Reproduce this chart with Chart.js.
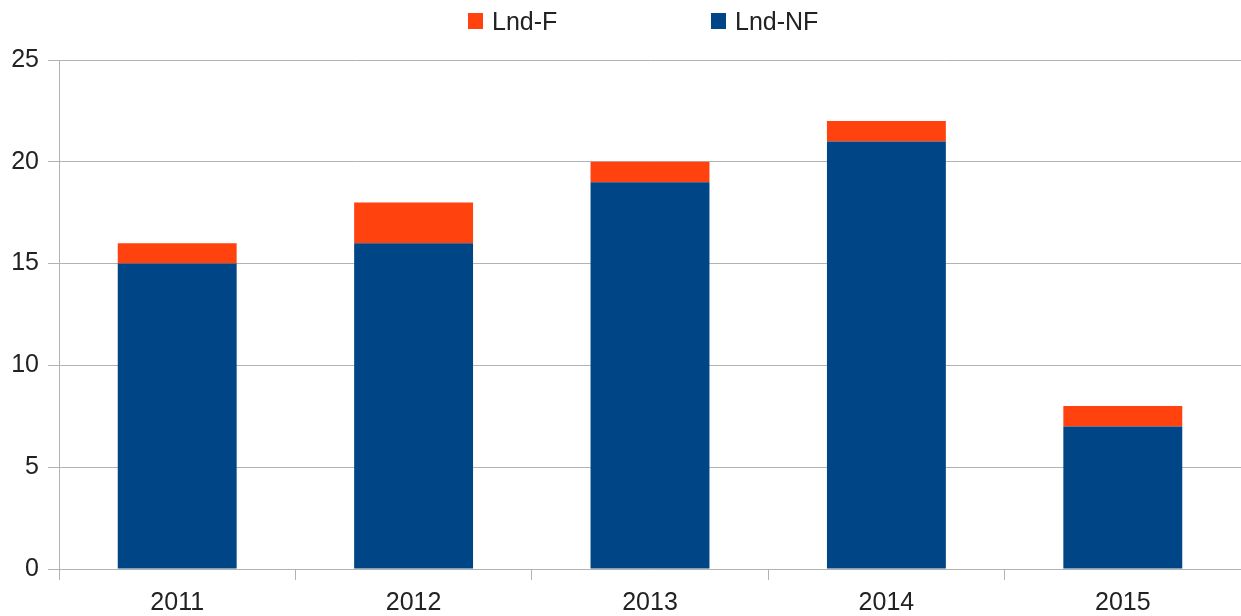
<!DOCTYPE html>
<html>
<head>
<meta charset="utf-8">
<script src="https://cdn.jsdelivr.net/npm/chart.js@4"></script>
<style>
  body { margin: 0; background: #fff; }
  #wrap { position: relative; width: 1241px; height: 616px; }
  #legend { position: absolute; left: 468px; top: 7px; height: 28px; display: flex;
            font-family: "Liberation Sans", Arial, sans-serif; font-size: 25px; color: #222; }
  .item { width: 243px; display: flex; align-items: center; }
  .box { width: 15px; height: 16px; margin-right: 9px; }
</style>
</head>
<body>
<div id="wrap">
  <div id="legend"></div>
  <canvas id="myChart"></canvas>
</div>
<script>
// chart data
const years = ['2011', '2012', '2013', '2014', '2015'];
const lndNF = [15, 16, 19, 21, 7];
const lndF = [1, 2, 1, 1, 1];
const yTicks = [0, 5, 10, 15, 20, 25];

const fontFamily = '"Liberation Sans", Arial, sans-serif';
const gridColor = '#b3b3b3';

const ctx = document.getElementById('myChart').getContext('2d');

const myChart = new Chart(ctx, {
    type: 'bar',
    data: {
        labels: years,
        datasets: [
            { label: 'Lnd-NF', data: lndNF, backgroundColor: '#004586' },
            { label: 'Lnd-F', data: lndF, backgroundColor: '#ff420e' }
        ]
    },
    options: {
        responsive: true,
        maintainAspectRatio: false,
        animation: false,
        layout: { padding: { top: 60, right: 0, left: 0, bottom: 0 } },
        plugins: {
            legend: { display: false },
            tooltip: { enabled: false }
        },
        datasets: { bar: { categoryPercentage: 1, barPercentage: 0.503 } },
        scales: {
            x: {
                stacked: true,
                offset: true,
                grid: { offset: true, drawOnChartArea: false, color: gridColor, tickLength: 11 },
                border: { color: gridColor },
                ticks: { color: '#222', font: { family: fontFamily, size: 25 }, padding: 8 },
                afterFit: s => { s.height = 47; }
            },
            y: {
                stacked: true,
                min: 0,
                max: 25,
                afterBuildTicks: s => { s.ticks = yTicks.map(v => ({ value: v })); },
                grid: { color: gridColor, tickLength: 11 },
                border: { color: gridColor },
                ticks: { color: '#222', font: { family: fontFamily, size: 25 }, padding: 9 },
                afterFit: s => { s.width = 59; }
            }
        }
    }
});

// legend in the same order as the reference (top series first)
const legendEl = document.getElementById('legend');
myChart.data.datasets.slice().reverse().forEach(ds => {
    const item = document.createElement('div');
    item.className = 'item';
    item.innerHTML = '<span class="box" style="background:' + ds.backgroundColor + '"></span>' + ds.label;
    legendEl.appendChild(item);
});
</script>
</body>
</html>
